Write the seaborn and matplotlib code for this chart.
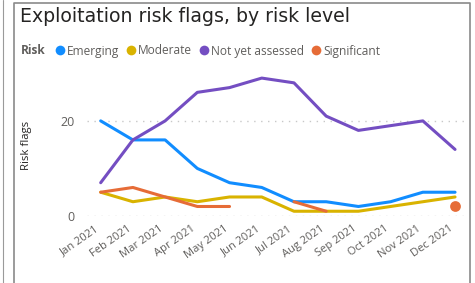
import numpy as np
import pandas as pd
import matplotlib
matplotlib.use("Agg")
import matplotlib.pyplot as plt
import matplotlib.transforms as mtransforms
import seaborn as sns
from matplotlib.lines import Line2D

months = ["Jan 2021", "Feb 2021", "Mar 2021", "Apr 2021", "May 2021", "Jun 2021",
          "Jul 2021", "Aug 2021", "Sep 2021", "Oct 2021", "Nov 2021", "Dec 2021"]
risk_levels = ["Emerging", "Moderate", "Not yet assessed", "Significant"]
emerging = [20, 16, 16, 10, 7, 6, 3, 3, 2, 3, 5, 5]
moderate = [5, 3, 4, 3, 4, 4, 1, 1, 1, 2, 3, 4]
not_yet_assessed = [7, 16, 20, 26, 27, 29, 28, 21, 18, 19, 20, 14]
significant = [5, 6, 4, 2, 2, np.nan, 3, 1, np.nan, np.nan, np.nan, 2]
y_ticks = [0, 20]
colors = ["#118DFF", "#D9B300", "#744EC2", "#E66C37"]

series = [emerging, moderate, not_yet_assessed, significant]
rows = []
for lvl, vals in zip(risk_levels, series):
    for i, v in enumerate(vals):
        rows.append({"idx": i, "Month": months[i], "Risk": lvl, "flags": v})
df = pd.DataFrame(rows)

sns.set_theme(style="white")
plt.rcParams['font.family'] = ['Open Sans', 'DejaVu Sans']

W, H = 475, 283
fig = plt.figure(figsize=(W / 100, H / 100), dpi=100)
ax = fig.add_axes([87 / W, 1 - 216 / H, 379 / W, 146 / H])

lw = 2.2
for lvl, col in zip(risk_levels, colors):
    sub = df[df["Risk"] == lvl].reset_index(drop=True)
    valid = sub["flags"].notna()
    seg_id = (~valid).cumsum()
    for _, seg in sub[valid].groupby(seg_id[valid]):
        if len(seg) > 1:
            sns.lineplot(data=seg, x="idx", y="flags", color=col, linewidth=lw,
                         ax=ax, legend=False, clip_on=False)
        else:
            sns.scatterplot(data=seg, x="idx", y="flags", color=col, s=60,
                            linewidth=0, ax=ax, legend=False, clip_on=False)

ax.set_xlim(-0.425, 11.34)
ax.set_ylim(0, 30.7)
for s in ax.spines.values():
    s.set_visible(False)
ax.set_yticks(y_ticks)
ax.set_yticklabels([str(t) for t in y_ticks], color="#605E5C", fontsize=9)
ax.yaxis.grid(True, color="#C8C8C8", linestyle=(0, (1, 4)), linewidth=1.0)
ax.set_axisbelow(True)
ax.tick_params(axis="y", length=0, pad=9)
ax.set_xticks(range(len(months)))
ax.set_xticklabels(months, rotation=35, ha="right", va="top",
                   rotation_mode="anchor", color="#605E5C", fontsize=8)
ax.tick_params(axis="x", length=0, pad=5)
offset = mtransforms.ScaledTranslation(-6 / 100, 0, fig.dpi_scale_trans)
for lab in ax.get_xticklabels():
    lab.set_transform(lab.get_transform() + offset)
ax.set_xlabel("")
ax.set_ylabel("")
fig.text(26 / W, 1 - 145 / H, "Risk flags", rotation=90, ha="center", va="center",
         fontsize=8.2, color="#252423")

# title
fig.text(20 / W, 1 - 17 / H, "Exploitation risk flags, by risk level", ha="left",
         va="center", fontsize=13.6, color="#252423", family="DejaVu Sans")

# legend drawn manually
fig.canvas.draw()
r = fig.canvas.get_renderer()
base = 1 - 54.5 / H
cy = 1 - 50 / H
lfs = 8.6
t = fig.text(21 / W, base, "Risk", ha="left", va="baseline", fontsize=lfs,
             fontweight="bold", color="#605E5C")
cx = t.get_window_extent(r).x1 + 14
for lvl, col in zip(risk_levels, colors):
    fig.add_artist(Line2D([cx / W], [cy], marker="o", markersize=7, color=col,
                          markeredgewidth=0, transform=fig.transFigure))
    tt = fig.text((cx + 7) / W, base, lvl, ha="left", va="baseline", fontsize=lfs,
                  color="#605E5C")
    cx = tt.get_window_extent(r).x1 + 12

# card borders
fig.add_artist(Line2D([3 / W, 3 / W], [0, 1], color="#9A9A9A", linewidth=0.8,
                      transform=fig.transFigure))
fig.add_artist(Line2D([13.5 / W, 13.5 / W, 470 / W, 470 / W], [0, 1 - 2.5 / H, 1 - 2.5 / H, 0],
                      color="#8A8A8A", linewidth=1.2, transform=fig.transFigure))

fig.savefig("out.png", dpi=100)
